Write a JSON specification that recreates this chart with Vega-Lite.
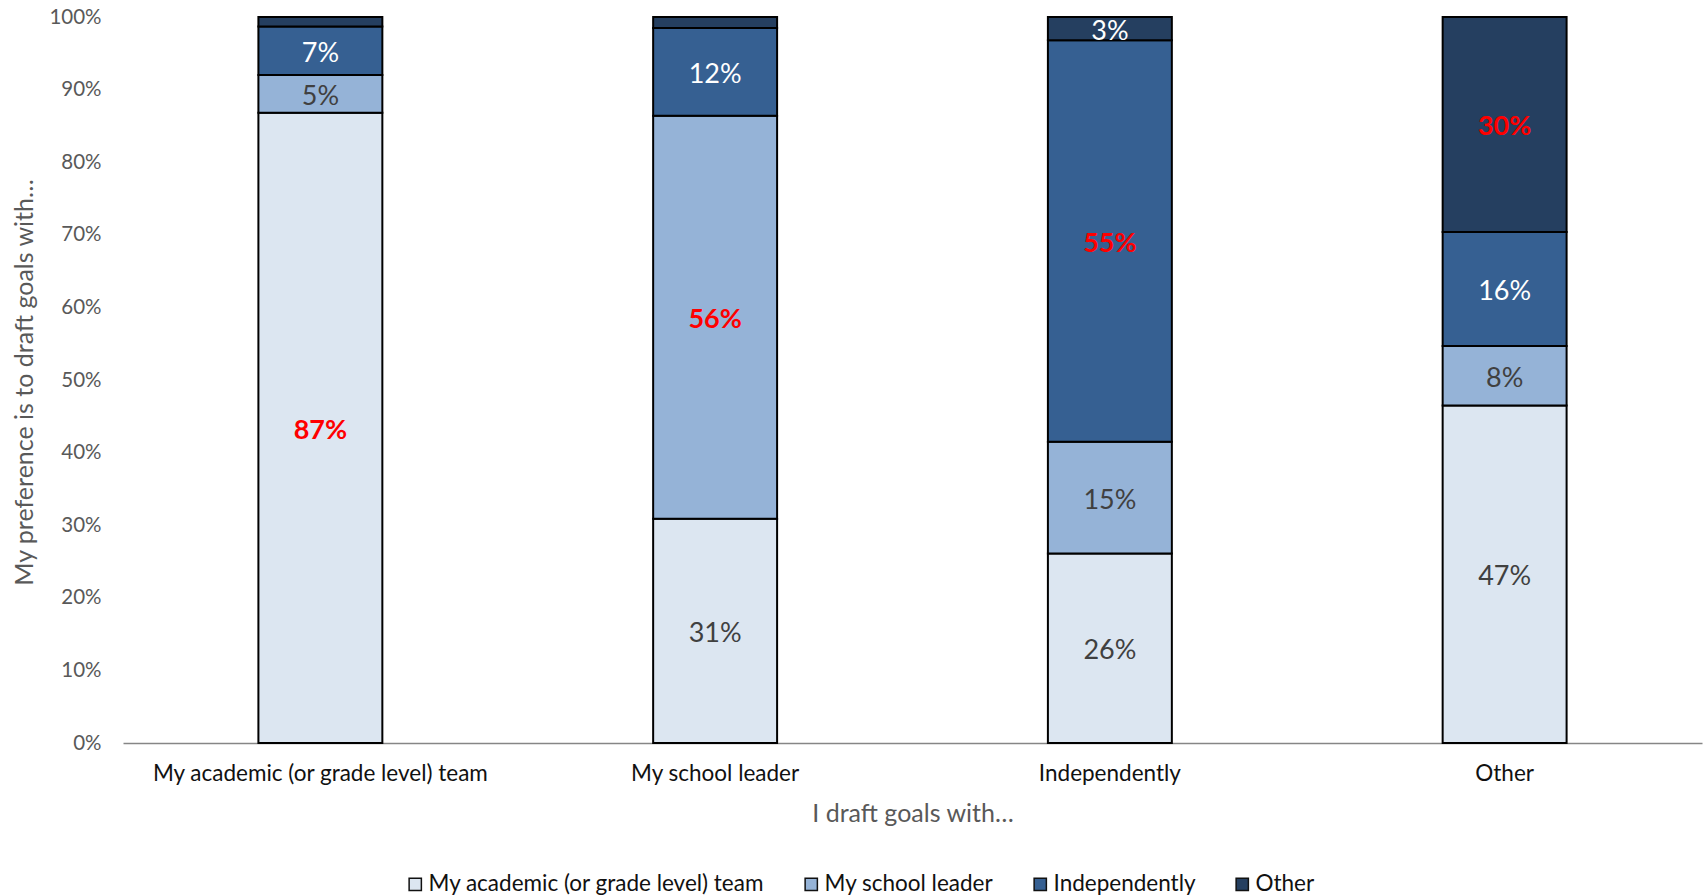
{
  "$schema": "https://vega.github.io/schema/vega-lite/v6.json",
  "autosize": {"type": "none"},
  "width": 1579,
  "height": 726,
  "padding": {"left": 123, "top": 17, "right": 3, "bottom": 153},
  "background": "white",
  "config": {"font": "Lato", "view": {"stroke": null}},
  "data": {"values": [
    {"cat": "My academic (or grade level) team", "series": "My academic (or grade level) team", "k": 1, "value": 86.8, "label": "87%"},
    {"cat": "My academic (or grade level) team", "series": "My school leader", "k": 2, "value": 5.2, "label": "5%"},
    {"cat": "My academic (or grade level) team", "series": "Independently", "k": 3, "value": 6.7, "label": "7%"},
    {"cat": "My academic (or grade level) team", "series": "Other", "k": 4, "value": 1.3, "label": ""},
    {"cat": "My school leader", "series": "My academic (or grade level) team", "k": 1, "value": 30.9, "label": "31%"},
    {"cat": "My school leader", "series": "My school leader", "k": 2, "value": 55.5, "label": "56%"},
    {"cat": "My school leader", "series": "Independently", "k": 3, "value": 12.1, "label": "12%"},
    {"cat": "My school leader", "series": "Other", "k": 4, "value": 1.5, "label": ""},
    {"cat": "Independently", "series": "My academic (or grade level) team", "k": 1, "value": 26.1, "label": "26%"},
    {"cat": "Independently", "series": "My school leader", "k": 2, "value": 15.4, "label": "15%"},
    {"cat": "Independently", "series": "Independently", "k": 3, "value": 55.3, "label": "55%"},
    {"cat": "Independently", "series": "Other", "k": 4, "value": 3.2, "label": "3%"},
    {"cat": "Other", "series": "My academic (or grade level) team", "k": 1, "value": 46.5, "label": "47%"},
    {"cat": "Other", "series": "My school leader", "k": 2, "value": 8.2, "label": "8%"},
    {"cat": "Other", "series": "Independently", "k": 3, "value": 15.7, "label": "16%"},
    {"cat": "Other", "series": "Other", "k": 4, "value": 29.6, "label": "30%"}
  ]},
  "encoding": {
    "x": {
      "field": "cat", "type": "nominal",
      "sort": ["My academic (or grade level) team", "My school leader", "Independently", "Other"],
      "scale": {"paddingInner": 0.686, "paddingOuter": 0.343},
      "axis": {
        "title": "I draft goals with…", "titleFontSize": 25, "titleColor": "#595959", "titleFontWeight": "normal", "titlePadding": 17,
        "labelAngle": 0, "labelFontSize": 22.5, "labelColor": "#111111", "labelPadding": 19, "labelLimit": 0,
        "ticks": false, "domainColor": "#868686", "domainWidth": 1.5, "grid": false
      }
    },
    "y": {
      "field": "value", "type": "quantitative", "stack": "zero",
      "scale": {"domain": [0, 100], "nice": false},
      "axis": {
        "values": [0, 10, 20, 30, 40, 50, 60, 70, 80, 90, 100],
        "labelExpr": "datum.value + '%'",
        "title": "My preference is to draft goals with…",
        "titleFontSize": 25, "titleColor": "#595959", "titleFontWeight": "normal", "titleLimit": 0,
        "titleX": -99, "titleY": 365, "titleAngle": 270, "titleAlign": "center", "titleBaseline": "middle",
        "labelFontSize": 20.5, "labelColor": "#595959", "labelPadding": 22,
        "ticks": false, "domain": false, "grid": false
      }
    },
    "order": {"field": "k", "type": "quantitative", "sort": "ascending"}
  },
  "layer": [
    {
      "mark": {"type": "bar", "stroke": "black", "strokeWidth": 2},
      "encoding": {
        "color": {
          "field": "series", "type": "nominal",
          "scale": {
            "domain": ["My academic (or grade level) team", "My school leader", "Independently", "Other"],
            "range": ["#DCE6F1", "#95B3D7", "#366092", "#253F60"]
          },
          "legend": {
            "title": null, "orient": "none", "direction": "horizontal",
            "legendX": 281, "legendY": 856,
            "labelFontSize": 22.5, "labelColor": "#111111", "labelOffset": 2, "labelLimit": 0,
            "symbolType": "square", "symbolSize": 150, "symbolStrokeColor": "#111111", "symbolStrokeWidth": 1.5,
            "columnPadding": 35
          }
        }
      }
    },
    {
      "mark": {"type": "text", "fontSize": 27, "align": "center", "baseline": "middle", "dy": 3},
      "encoding": {
        "y": {"field": "value", "type": "quantitative", "stack": "zero", "bandPosition": 0.5},
        "text": {"condition": {"test": "datum.series === datum.cat", "value": ""}, "field": "label"},
        "color": {"condition": {"test": "datum.k >= 3", "value": "white"}, "value": "#404040"}
      }
    },
    {
      "mark": {"type": "text", "fontSize": 27, "fontWeight": "bold", "align": "center", "baseline": "middle", "color": "#FF0000", "dy": 3},
      "encoding": {
        "y": {"field": "value", "type": "quantitative", "stack": "zero", "bandPosition": 0.5},
        "text": {"condition": {"test": "datum.series !== datum.cat", "value": ""}, "field": "label"}
      }
    }
  ]
}
